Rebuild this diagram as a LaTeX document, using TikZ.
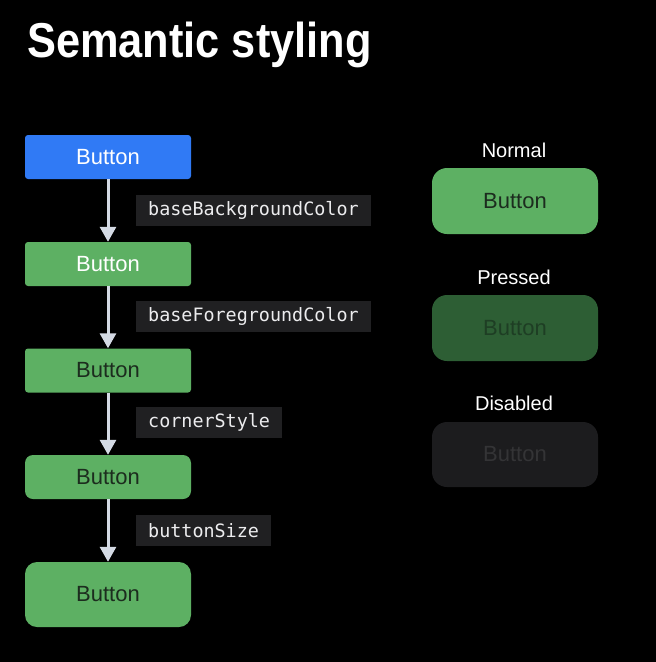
\documentclass[tikz,border=0pt]{standalone}
\usepackage{fontspec}
\setmainfont{Liberation Sans}
\newfontfamily\monof{DejaVu Sans Mono}
\usetikzlibrary{arrows.meta}
\definecolor{bgc}{RGB}{0,0,0}
\definecolor{bluec}{RGB}{48,122,245}
\definecolor{greenc}{RGB}{93,176,99}
\definecolor{pressc}{RGB}{45,94,52}
\definecolor{presst}{RGB}{30,62,36}
\definecolor{disc}{RGB}{28,28,30}
\definecolor{dist}{RGB}{52,52,54}
\definecolor{darkt}{RGB}{28,44,30}
\definecolor{labbg}{RGB}{32,32,34}
\definecolor{labt}{RGB}{236,236,238}
\definecolor{arrc}{RGB}{212,218,228}
\tikzset{
  btn/.style={rectangle, minimum width=166pt, minimum height=44pt, inner sep=0pt,
    font=\fontsize{22}{26}\selectfont},
  lab/.style={rectangle, fill=labbg, text=labt, anchor=west, minimum height=31pt,
    inner xsep=12pt, inner ysep=0pt, font=\monof\fontsize{18.4}{22}\selectfont},
  hdr/.style={text=white, font=\fontsize{20}{24}\selectfont, inner sep=0pt},
  flow/.style={draw=arrc, line width=3pt, -{Triangle[width=16pt,length=15pt]}},
}
\begin{document}
\begin{tikzpicture}[x=1pt,y=-1pt]
\fill[bgc] (0,0) rectangle (656,662);
\useasboundingbox (0,0) rectangle (656,662);
\node[anchor=base west, inner sep=0pt, text=white, xscale=0.885,
  font=\bfseries\fontsize{49}{56}\selectfont] (title) at (27,57) {Semantic styling};
% left column
\node[btn, fill=bluec, text=white, rounded corners=3pt] (b1) at (108,157) {Button};
\node[btn, fill=greenc, text=white, rounded corners=3pt] (b2) at (108,264) {Button};
\node[btn, fill=greenc, text=darkt, rounded corners=3pt] (b3) at (108,370.5) {Button};
\node[btn, fill=greenc, text=darkt, rounded corners=8pt] (b4) at (108,477) {Button};
\node[btn, fill=greenc, text=darkt, rounded corners=12pt, minimum height=65pt] (b5) at (108,594.5) {Button};
\draw[flow] (b1.south) -- (b2.north);
\draw[flow] (b2.south) -- (b3.north);
\draw[flow] (b3.south) -- (b4.north);
\draw[flow] (b4.south) -- (b5.north);
\node[lab] (l1) at (136,210.5) {baseBackgroundColor};
\node[lab] (l2) at (136,316.5) {baseForegroundColor};
\node[lab] (l3) at (136,422.5) {cornerStyle};
\node[lab] (l4) at (136,530.5) {buttonSize};
% right column
\node[hdr] (hn) at (514,150) {Normal};
\node[btn, fill=greenc, text=darkt, rounded corners=15pt, minimum height=66pt] (rn) at (515,201) {Button};
\node[hdr] (hp) at (514,277) {Pressed};
\node[btn, fill=pressc, text=presst, rounded corners=15pt, minimum height=66pt] (rp) at (515,328) {Button};
\node[hdr] (hd) at (514,403) {Disabled};
\node[btn, fill=disc, text=dist, rounded corners=15pt, minimum height=65pt] (rd) at (515,454.5) {Button};
\end{tikzpicture}
\end{document}
